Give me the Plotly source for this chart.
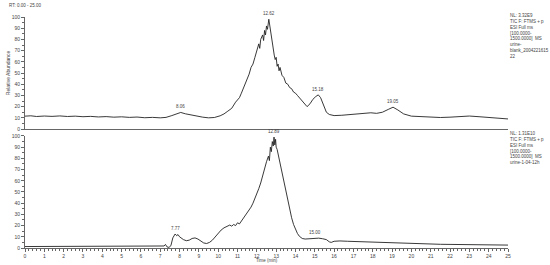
import plotly.graph_objects as go
from plotly.subplots import make_subplots

# top chromatogram (urine blank)
t_top = [0.0, 0.3, 0.6, 1.0, 1.4, 1.8, 2.2, 2.6, 3.0, 3.4, 3.8, 4.2, 4.6, 5.0, 5.4, 5.8, 6.2, 6.6, 7.0, 7.3,
         7.6, 7.9, 8.06, 8.3, 8.6, 8.9, 9.2, 9.5, 9.8, 10.1, 10.3, 10.5, 10.7, 10.9, 11.0, 11.1, 11.2, 11.3,
         11.4, 11.5, 11.6, 11.7, 11.8, 11.9, 12.0, 12.1, 12.15, 12.2, 12.3, 12.35, 12.4, 12.45, 12.5, 12.55,
         12.62, 12.66, 12.7, 12.75, 12.8, 12.85, 12.9, 12.95, 13.0, 13.05, 13.1, 13.15, 13.2, 13.3, 13.4,
         13.5, 13.6, 13.7, 13.8, 13.9, 14.0, 14.1, 14.2, 14.3, 14.45, 14.6, 14.75, 14.9, 15.05, 15.18, 15.3,
         15.4, 15.5, 15.6, 15.75, 16.0, 16.4, 16.8, 17.2, 17.6, 17.9, 18.2, 18.5, 18.8, 19.05, 19.3, 19.6,
         20.0, 20.5, 21.0, 21.5, 22.0, 22.5, 23.0, 23.5, 24.0, 24.5, 25.0]
ab_top = [11.5, 11.8, 11.2, 11.6, 11.3, 11.7, 11.2, 11.5, 11.0, 11.3, 10.8, 11.1, 10.6, 10.9, 10.4, 10.7, 10.1,
          10.4, 10.0, 10.4, 12.0, 14.0, 14.8, 13.6, 12.4, 11.6, 10.6, 10.0, 10.3, 11.8, 13.5, 16.0, 18.5,
          24.0, 26.5, 28.0, 32.0, 36.5, 40.0, 44.0, 49.0, 55.0, 58.0, 64.0, 69.0, 76.0, 72.0, 80.0, 84.0,
          79.0, 88.0, 84.0, 92.0, 89.0, 98.0, 93.0, 88.0, 80.0, 76.0, 70.0, 66.0, 62.0, 64.0, 56.0, 58.0,
          52.0, 55.0, 48.0, 46.0, 41.0, 40.0, 37.0, 36.0, 33.0, 32.0, 30.0, 28.0, 26.0, 22.0, 20.0, 22.5,
          26.5, 29.0, 30.5, 28.0, 24.0, 19.0, 15.0, 13.0, 12.0, 12.3, 12.8, 13.5, 13.8, 14.5, 14.0, 15.0,
          17.5, 19.5, 17.0, 13.5, 11.5, 11.0, 10.5, 10.3, 10.6, 11.2, 11.6, 11.0, 10.3, 9.6, 9.0]

# bottom chromatogram (urine 1-04-12h)
t_bot = [0.0, 1.0, 2.0, 3.0, 4.0, 5.0, 6.0, 7.0, 7.2, 7.27, 7.35, 7.45, 7.55, 7.65, 7.72, 7.77, 7.85, 7.92,
         8.0, 8.1, 8.2, 8.35, 8.5, 8.65, 8.8, 8.95, 9.1, 9.25, 9.4, 9.55, 9.7, 9.85, 10.0, 10.15, 10.3,
         10.45, 10.6, 10.7, 10.8, 10.9, 11.0, 11.1, 11.2, 11.3, 11.4, 11.5, 11.6, 11.7, 11.8, 11.9, 12.0,
         12.1, 12.2, 12.3, 12.4, 12.5, 12.6, 12.65, 12.7, 12.75, 12.8, 12.85, 12.89, 12.93, 12.97, 13.0,
         13.05, 13.1, 13.2, 13.3, 13.4, 13.5, 13.6, 13.7, 13.8, 13.9, 14.0, 14.1, 14.2, 14.35, 14.5, 14.7,
         14.9, 15.0, 15.2, 15.4, 15.6, 15.75, 15.85, 16.0, 16.3, 16.7, 17.0, 17.5, 18.0, 18.5, 19.0, 19.5,
         20.0, 20.5, 21.0, 21.5, 22.0, 22.5, 23.0, 23.5, 24.0, 24.5, 25.0]
ab_bot = [1.3, 1.3, 1.2, 1.3, 1.2, 1.3, 1.2, 1.3, 1.8, 3.2, 1.0, 0.5, 2.0, 9.0, 11.5, 12.5, 11.0, 12.0,
          10.0, 8.5, 7.5, 6.5, 7.0, 8.5, 9.0, 8.0, 6.0, 4.5, 4.0, 5.0, 7.0, 10.0, 13.5, 16.0, 18.0, 19.0,
          20.5, 19.5, 21.0, 20.0, 22.5, 21.5, 24.0, 27.0, 29.0, 31.0, 34.0, 36.5, 40.0, 44.0, 48.0, 53.0,
          58.0, 65.0, 70.0, 77.0, 82.0, 78.0, 90.0, 86.0, 95.0, 91.0, 99.0, 92.0, 97.0, 90.0, 88.0, 84.0,
          76.0, 68.0, 60.0, 51.0, 42.0, 34.0, 27.0, 21.0, 16.5, 13.0, 10.5, 8.5, 8.0, 8.3, 8.8, 9.0, 8.8,
          8.3, 7.5, 5.5, 5.0, 6.0, 6.3, 6.0, 5.8, 5.6, 5.3, 5.1, 4.7, 4.2, 3.9, 3.6, 3.4, 3.3, 3.2, 3.1,
          3.0, 2.9, 2.8, 2.7, 2.6]

peaks_top = [8.06, 12.62, 15.18, 19.05]
peaks_bot = [7.77, 12.89, 15.00]

info_top = ["NL: 3.32E9", "TIC F: FTMS + p", "ESI Full ms", "[100.0000-", "1500.0000]  MS", "urine-",
            "blank_2004221615", "22"]
info_bot = ["NL: 1.31E10", "TIC F: FTMS + p", "ESI Full ms", "[100.0000-", "1500.0000]  MS",
            "urine-1-04-12h"]

FONT = "Liberation Sans"
GREY = "#666666"
TXT = "#444444"

fig = make_subplots(rows=2, cols=1, shared_xaxes=False)
fig.add_trace(go.Scatter(x=t_top, y=ab_top, mode="lines", line=dict(color="#222", width=0.9)), row=1, col=1)
fig.add_trace(go.Scatter(x=t_bot, y=ab_bot, mode="lines", line=dict(color="#222", width=0.9)), row=2, col=1)

yax = dict(range=[0, 100], showgrid=False, zeroline=False, showline=True, linecolor=GREY, linewidth=1,
           ticks="outside", ticklen=3, tickcolor=GREY, dtick=10, tickfont=dict(size=5, color=TXT),
           automargin=False, minor=dict(ticks="outside", ticklen=2, dtick=5, tickcolor=GREY))
fig.update_yaxes(**yax)
fig.update_layout(
    yaxis=dict(domain=[0.515, 1.0]),
    yaxis2=dict(domain=[0.0, 0.485]),
    xaxis=dict(range=[0, 25], showgrid=False, zeroline=False, showline=True, linecolor=GREY,
               showticklabels=False, ticks="", automargin=False),
    xaxis2=dict(range=[0, 25], showgrid=False, zeroline=False, showline=True, linecolor=GREY,
                ticks="outside", ticklen=3, tickcolor=GREY, dtick=1, tickfont=dict(size=5, color=TXT),
                automargin=False, minor=dict(ticks="outside", ticklen=2, dtick=0.2, tickcolor=GREY)),
    width=550, height=265,
    margin=dict(l=25, r=42, t=17, b=17),
    paper_bgcolor="white", plot_bgcolor="white",
    showlegend=False,
    font=dict(family=FONT, color=TXT),
)

# peak labels
for p in peaks_top:
    i = min(range(len(t_top)), key=lambda k: abs(t_top[k] - p))
    fig.add_annotation(x=p, y=ab_top[i], xref="x", yref="y", text=f"{p:.2f}", showarrow=False,
                       yanchor="bottom", yshift=1, font=dict(size=4.5, color=TXT))
for p in peaks_bot:
    i = min(range(len(t_bot)), key=lambda k: abs(t_bot[k] - p))
    fig.add_annotation(x=p, y=ab_bot[i], xref="x2", yref="y2", text=f"{p:.2f}", showarrow=False,
                       yanchor="bottom", yshift=1, font=dict(size=4.5, color=TXT))

# instrument notes at right
fig.add_annotation(x=1.0, y=1.0, xref="paper", yref="paper", xanchor="left", yanchor="top", xshift=0, yshift=6,
                   text="<br>".join(info_top), showarrow=False, align="left", font=dict(size=4.5, color=TXT))
fig.add_annotation(x=1.0, y=0.49, xref="paper", yref="paper", xanchor="left", yanchor="top", xshift=0, yshift=6,
                   text="<br>".join(info_bot), showarrow=False, align="left", font=dict(size=4.5, color=TXT))

fig.add_annotation(x=0, y=1.0, xref="paper", yref="paper", xanchor="left", yanchor="bottom", xshift=-18, yshift=7,
                   text="RT: 0.00 - 25.00", showarrow=False, font=dict(size=4.5, color=TXT))
fig.add_annotation(x=0, y=0.757, xref="paper", yref="paper", xanchor="center", yanchor="middle", xshift=-17,
                   text="Relative Abundance", textangle=-90, showarrow=False, font=dict(size=5, color=TXT))
fig.add_annotation(x=0.5, y=0, xref="paper", yref="paper", xanchor="center", yanchor="top", yshift=-8,
                   text="Time (min)", showarrow=False, font=dict(size=4.5, color=TXT))

fig.write_html("out.html", config={"displayModeBar": False},
               post_script="document.body.style.margin='0';")
